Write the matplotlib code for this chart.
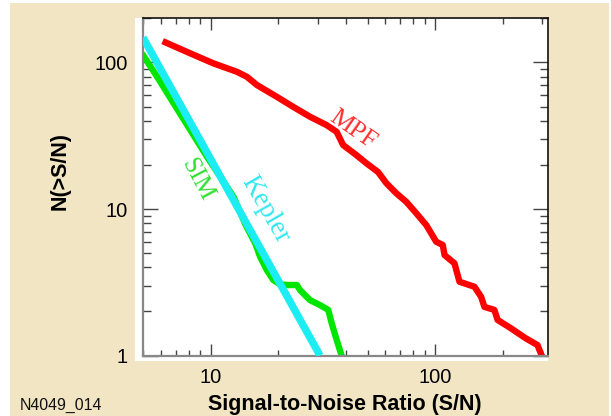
import matplotlib
matplotlib.use("Agg")
import matplotlib.pyplot as plt
from matplotlib.patches import Rectangle
from matplotlib.ticker import LogLocator, NullFormatter, FixedLocator, FixedFormatter

# ---- data ----
mpf_sn = [6.3, 8.13, 10.3, 13.1, 14.5, 16.1, 19.7, 23.3, 27.7, 32.8, 36.4, 38.9,
          44.6, 49.4, 55.6, 60.6, 67.1, 74.3, 82.4, 91.2, 101, 108, 110, 121.8,
          128.2, 149.4, 160, 165.5, 183.3, 189.6, 217.3, 253.3, 285.2, 297.8]
mpf_n = [136.9, 115.2, 98.5, 86.3, 79.8, 70.0, 58.3, 49.8, 42.6, 37.4, 33.6, 27.3,
         23.3, 20.5, 17.9, 15.0, 12.8, 11.2, 9.34, 7.77, 5.98, 5.68, 4.85, 4.26,
         3.19, 2.95, 2.52, 2.15, 2.05, 1.75, 1.535, 1.31, 1.18, 1.0]

sim_sn = [5.04, 5.78, 6.85, 8.13, 9.64, 11.04, 12.65, 14.26, 15.8, 16.6, 17.8, 19.0,
          20.4, 22.2, 24.2, 25.0, 27.7, 30.7, 33.4, 34.6, 36.4, 38.3]
sim_n = [110.4, 79.8, 52.5, 34.5, 22.7, 16.6, 12.1, 7.89, 5.83, 4.73, 3.83, 3.28,
         3.06, 3.03, 3.03, 2.80, 2.39, 2.21, 2.05, 1.66, 1.28, 1.0]

kepler_sn = [5.0, 30.7]
kepler_n = [148.0, 1.0]

x_ticks = [10, 100]
x_tick_labels = ["10", "100"]
y_ticks = [1, 10, 100]
y_tick_labels = ["1", "10", "100"]

W, H = 611, 416
fig = plt.figure(figsize=(W / 100, H / 100), dpi=100)
fig.patch.set_facecolor("white")

beige = "#F1E5C3"
# beige panel and white plot box
fig.patches.append(Rectangle((10 / W, 0), (609 - 10) / W, (416 - 3.3) / H,
                             transform=fig.transFigure, facecolor=beige,
                             edgecolor="none", zorder=-10))
fig.patches.append(Rectangle((135 / W, (H - 361) / H), (548 - 135) / W, (361 - 18.3) / H,
                             transform=fig.transFigure, facecolor="white",
                             edgecolor="none", zorder=-9))

left, right = 143 / W, 547.5 / W
bottom, top = (H - 355.6) / H, (H - 18.3) / H
ax = fig.add_axes([left, bottom, right - left, top - bottom])
ax.set_facecolor("white")
ax.set_xscale("log")
ax.set_yscale("log")
ax.set_xlim(5, 316)
ax.set_ylim(1, 200)

ax.plot(kepler_sn, kepler_n, color="#1CEDF3", lw=5.4, solid_capstyle="butt", zorder=3)
ax.plot(sim_sn, sim_n, color="#00E600", lw=4.6, solid_joinstyle="round", zorder=2)
ax.plot(mpf_sn, mpf_n, color="#FF0000", lw=4.6, solid_joinstyle="round", zorder=2)

serif = ["Liberation Serif", "DejaVu Serif"]
ax.text(43, 34.5, "MPF", color="#FF3030", fontsize=18.5, family=serif,
        rotation=-35, ha="center", va="center", rotation_mode="anchor")
ax.text(8.73, 15.8, "SIM", color="#30E030", fontsize=18, family=serif,
        rotation=-62, ha="center", va="center", rotation_mode="anchor")
ax.text(17.6, 9.84, "Kepler", color="#30E8F0", fontsize=19.5, family=serif,
        rotation=-60, ha="center", va="center", rotation_mode="anchor")

# ticks
ax.xaxis.set_major_locator(FixedLocator(x_ticks))
ax.xaxis.set_major_formatter(FixedFormatter(x_tick_labels))
ax.xaxis.set_minor_locator(LogLocator(base=10, subs=range(2, 10), numticks=20))
ax.xaxis.set_minor_formatter(NullFormatter())
ax.yaxis.set_major_locator(FixedLocator(y_ticks))
ax.yaxis.set_major_formatter(FixedFormatter(y_tick_labels))
ax.yaxis.set_minor_locator(LogLocator(base=10, subs=range(2, 10), numticks=20))
ax.yaxis.set_minor_formatter(NullFormatter())

sans = ["Liberation Sans", "DejaVu Sans"]
ax.tick_params(axis="both", which="both", direction="in", top=True, right=True,
               color="#444444", width=1.0)
ax.tick_params(axis="x", which="major", length=8.6, pad=9)
ax.tick_params(axis="x", which="minor", length=4.3)
ax.tick_params(axis="y", which="major", length=10.8, pad=11)
ax.tick_params(axis="y", which="minor", length=5.8)
for lab in ax.get_xticklabels() + ax.get_yticklabels():
    lab.set_family(sans)
    lab.set_fontsize(14.5)

for s in ["left", "bottom"]:
    ax.spines[s].set_color("#888888")
    ax.spines[s].set_linewidth(1.6)
for s in ["top", "right"]:
    ax.spines[s].set_color("#111111")
    ax.spines[s].set_linewidth(1.2)

ax.set_xlabel("Signal-to-Noise Ratio (S/N)", family=sans, fontsize=15.5,
              fontweight="bold", labelpad=5)
ax.set_ylabel("N(>S/N)", family=sans, fontsize=15.5, fontweight="bold", labelpad=17)
ax.yaxis.label.set_y(0.547)

fig.text(19.5 / W, (H - 405) / H, "N4049_014", family=sans, fontsize=11.4,
         ha="left", va="center", color="#111111")

fig.savefig("out.png", dpi=100, facecolor=fig.get_facecolor())
